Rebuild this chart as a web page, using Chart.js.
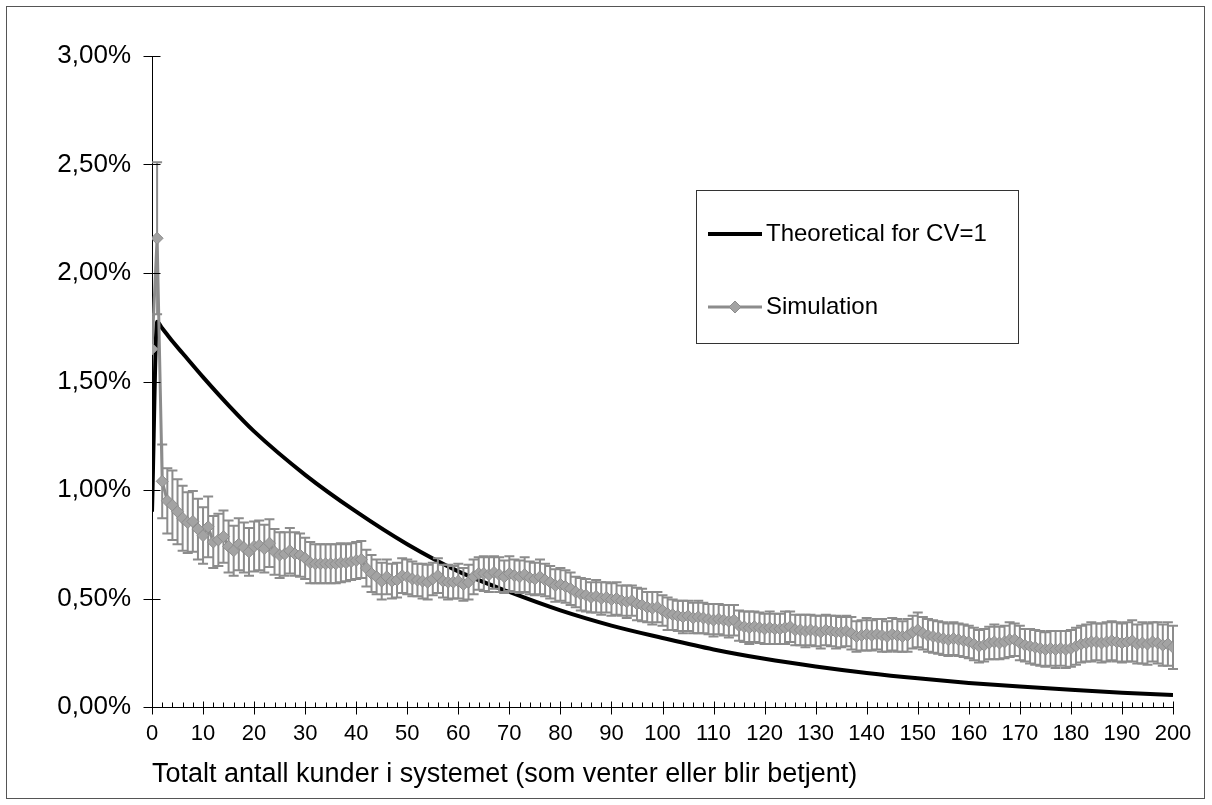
<!DOCTYPE html>
<html>
<head>
<meta charset="utf-8">
<script src="https://cdn.jsdelivr.net/npm/chart.js@4/dist/chart.umd.min.js"></script>
<style>
  body { margin: 0; background: #fff; }
  #wrap { position: relative; width: 1212px; height: 805px; }
  #frame { position: absolute; left: 6px; top: 6px; width: 1197px; height: 791px; border: 1px solid #555; pointer-events: none; }
</style>
</head>
<body>
<div id="wrap">
  <canvas id="queueChart" width="1212" height="805"></canvas>
  <div id="frame"></div>
</div>
<script>
// Theoretical distribution, read at a handful of queue lengths
const theoryCustomers = [0, 1, 2, 3, 4, 6, 10, 15, 20, 30, 40, 50, 60, 70, 80, 90, 100, 110, 120, 130, 140, 150, 160, 170, 180, 190, 200];
const theoryValues = [0.90, 1.775, 1.745, 1.715, 1.685, 1.63, 1.52, 1.39, 1.27, 1.07, 0.90, 0.75, 0.625, 0.53, 0.445, 0.375, 0.318, 0.265, 0.222, 0.187, 0.157, 0.132, 0.111, 0.094, 0.079, 0.066, 0.055];

// Simulated share of time (in %) for 0..200 customers in the system
const simValues = [
  1.65, 2.16, 1.04, 0.95, 0.93, 0.90, 0.87, 0.85, 0.855, 0.82,
  0.79, 0.83, 0.76, 0.77, 0.785, 0.74, 0.72, 0.75, 0.735, 0.715,
  0.74, 0.745, 0.73, 0.755, 0.715, 0.70, 0.705, 0.72, 0.705, 0.70,
  0.685, 0.665, 0.66, 0.66, 0.66, 0.66, 0.66, 0.665, 0.665, 0.67,
  0.675, 0.68, 0.64, 0.615, 0.60, 0.58, 0.60, 0.58, 0.585, 0.605,
  0.60, 0.59, 0.585, 0.58, 0.575, 0.59, 0.605, 0.58, 0.575, 0.575,
  0.58, 0.565, 0.575, 0.60, 0.615, 0.615, 0.61, 0.62, 0.61, 0.60,
  0.615, 0.605, 0.60, 0.61, 0.595, 0.59, 0.60, 0.585, 0.575, 0.56,
  0.565, 0.555, 0.545, 0.53, 0.52, 0.515, 0.505, 0.51, 0.50, 0.505,
  0.495, 0.50, 0.49, 0.485, 0.49, 0.475, 0.47, 0.46, 0.455, 0.46,
  0.445, 0.43, 0.425, 0.42, 0.415, 0.42, 0.41, 0.415, 0.41, 0.405,
  0.40, 0.405, 0.40, 0.395, 0.40, 0.375, 0.37, 0.365, 0.37, 0.365,
  0.36, 0.365, 0.36, 0.36, 0.365, 0.37, 0.355, 0.355, 0.35, 0.355,
  0.35, 0.345, 0.355, 0.35, 0.345, 0.345, 0.35, 0.34, 0.325, 0.33,
  0.335, 0.33, 0.335, 0.33, 0.325, 0.335, 0.33, 0.325, 0.33, 0.345,
  0.355, 0.34, 0.33, 0.325, 0.32, 0.315, 0.31, 0.315, 0.31, 0.305,
  0.30, 0.29, 0.28, 0.285, 0.295, 0.30, 0.295, 0.30, 0.31, 0.31,
  0.295, 0.285, 0.28, 0.275, 0.27, 0.265, 0.27, 0.265, 0.27, 0.265,
  0.27, 0.28, 0.29, 0.295, 0.30, 0.30, 0.295, 0.30, 0.305, 0.30,
  0.295, 0.30, 0.305, 0.29, 0.295, 0.29, 0.30, 0.295, 0.285, 0.29,
  0.275
];

// Half-width of the error bar for each simulated point
const simErrors = [
  0.0, 0.35, 0.17, 0.15, 0.16, 0.15, 0.15, 0.14, 0.14, 0.14,
  0.13, 0.14, 0.12, 0.12, 0.12, 0.12, 0.115, 0.12, 0.115, 0.11,
  0.115, 0.115, 0.11, 0.11, 0.105, 0.105, 0.10, 0.105, 0.10, 0.10,
  0.095, 0.095, 0.09, 0.09, 0.09, 0.09, 0.09, 0.09, 0.085, 0.085,
  0.085, 0.085, 0.085, 0.085, 0.08, 0.085, 0.08, 0.08, 0.08, 0.08,
  0.08, 0.08, 0.075, 0.08, 0.08, 0.075, 0.08, 0.075, 0.08, 0.075,
  0.08, 0.075, 0.08, 0.08, 0.075, 0.08, 0.08, 0.075, 0.08, 0.075,
  0.08, 0.075, 0.075, 0.08, 0.075, 0.075, 0.08, 0.075, 0.075, 0.075,
  0.075, 0.075, 0.075, 0.07, 0.075, 0.075, 0.07, 0.075, 0.075, 0.07,
  0.075, 0.075, 0.07, 0.075, 0.07, 0.075, 0.075, 0.07, 0.075, 0.07,
  0.07, 0.075, 0.07, 0.07, 0.075, 0.07, 0.07, 0.075, 0.07, 0.07,
  0.075, 0.07, 0.07, 0.075, 0.07, 0.07, 0.07, 0.075, 0.07, 0.07,
  0.07, 0.075, 0.07, 0.07, 0.075, 0.07, 0.07, 0.07, 0.075, 0.07,
  0.07, 0.075, 0.07, 0.07, 0.075, 0.07, 0.07, 0.075, 0.07, 0.07,
  0.075, 0.07, 0.07, 0.075, 0.07, 0.075, 0.075, 0.07, 0.075, 0.075,
  0.08, 0.075, 0.075, 0.075, 0.075, 0.075, 0.075, 0.075, 0.075, 0.075,
  0.075, 0.075, 0.075, 0.075, 0.075, 0.08, 0.075, 0.075, 0.08, 0.075,
  0.08, 0.075, 0.08, 0.08, 0.08, 0.08, 0.08, 0.085, 0.08, 0.085,
  0.085, 0.085, 0.085, 0.085, 0.09, 0.085, 0.09, 0.09, 0.09, 0.09,
  0.09, 0.09, 0.095, 0.09, 0.095, 0.095, 0.09, 0.095, 0.095, 0.10,
  0.10
];

const simCustomers = simValues.map((_, i) => i);

const xTickStep = 10;
const xMinorStep = 2;
const yTickStep = 0.5;

const FONT = "'Liberation Sans', Arial, sans-serif";
const simLine = '#8c8c8c';
const simFill = '#a3a3a3';

// Vertical error bars with caps, drawn just under the simulation markers
const errorBars = {
  id: 'errorBars',
  beforeDatasetDraw(chart, args) {
    if (args.index !== 0) return;
    const { ctx, scales: { x, y } } = chart;
    ctx.save();
    ctx.strokeStyle = simLine;
    ctx.lineWidth = 2;
    simValues.forEach((v, i) => {
      if (!simErrors[i]) return;
      const px = x.getPixelForValue(simCustomers[i]);
      const top = y.getPixelForValue(v + simErrors[i]);
      const bot = y.getPixelForValue(v - simErrors[i]);
      ctx.beginPath();
      ctx.moveTo(px, top); ctx.lineTo(px, bot);
      ctx.moveTo(px - 5, top); ctx.lineTo(px + 5, top);
      ctx.moveTo(px - 5, bot); ctx.lineTo(px + 5, bot);
      ctx.stroke();
    });
    ctx.restore();
  }
};

// Excel-style tick marks: crossing majors, inside minors on the x axis
const axisTicks = {
  id: 'axisTicks',
  afterDraw(chart) {
    const { ctx, scales: { x, y } } = chart;
    ctx.save();
    ctx.strokeStyle = '#000';
    ctx.lineWidth = 1;
    ctx.beginPath();
    const yb = Math.round(y.getPixelForValue(0)) + 0.5;
    for (let v = x.min; v <= x.max; v += xMinorStep) {
      const px = Math.round(x.getPixelForValue(v)) + 0.5;
      if (v % xTickStep === 0) {
        ctx.moveTo(px, yb - 6); ctx.lineTo(px, yb + 7);
      } else {
        ctx.moveTo(px, yb - 5); ctx.lineTo(px, yb);
      }
    }
    const xl = Math.round(x.getPixelForValue(0)) + 0.5;
    for (let v = y.min; v <= y.max + 1e-9; v += yTickStep) {
      const py = Math.round(y.getPixelForValue(v)) + 0.5;
      ctx.moveTo(xl - 9, py); ctx.lineTo(xl + 8, py);
    }
    ctx.stroke();
    ctx.restore();
  }
};

// Boxed legend inside the plot area
const legendBox = {
  id: 'legendBox',
  afterDraw(chart) {
    const ctx = chart.ctx;
    const sets = chart.data.datasets;
    ctx.save();
    ctx.fillStyle = '#fff';
    ctx.fillRect(696, 190, 322, 153);
    ctx.strokeStyle = '#333';
    ctx.lineWidth = 1;
    ctx.strokeRect(696.5, 190.5, 322, 153);

    ctx.font = '24px ' + FONT;
    ctx.textBaseline = 'middle';
    ctx.fillStyle = '#000';

    // theoretical
    ctx.strokeStyle = sets[1].borderColor;
    ctx.lineWidth = sets[1].borderWidth;
    ctx.beginPath(); ctx.moveTo(708, 234); ctx.lineTo(762, 234); ctx.stroke();
    ctx.fillText(sets[1].label, 766, 234);

    // simulation
    ctx.strokeStyle = sets[0].borderColor;
    ctx.lineWidth = sets[0].borderWidth;
    ctx.beginPath(); ctx.moveTo(708, 307); ctx.lineTo(762, 307); ctx.stroke();
    ctx.fillStyle = sets[0].pointBackgroundColor;
    ctx.strokeStyle = sets[0].pointBorderColor;
    ctx.lineWidth = 1;
    ctx.beginPath();
    ctx.moveTo(735, 301); ctx.lineTo(741, 307); ctx.lineTo(735, 313); ctx.lineTo(729, 307);
    ctx.closePath(); ctx.fill(); ctx.stroke();
    ctx.fillStyle = '#000';
    ctx.fillText(sets[0].label, 766, 307);
    ctx.restore();
  }
};

new Chart(document.getElementById('queueChart'), {
  type: 'line',
  data: {
    datasets: [
      {
        label: 'Simulation',
        data: simCustomers.map((c, i) => ({ x: c, y: simValues[i] })),
        borderColor: simLine,
        borderWidth: 3,
        pointStyle: 'rectRot',
        pointRadius: 6,
        pointBackgroundColor: simFill,
        pointBorderColor: simLine,
        pointBorderWidth: 1,
        tension: 0
      },
      {
        label: 'Theoretical for CV=1',
        data: theoryCustomers.map((c, i) => ({ x: c, y: theoryValues[i] })),
        borderColor: '#000',
        borderWidth: 4,
        pointRadius: 0,
        cubicInterpolationMode: 'monotone'
      }
    ]
  },
  options: {
    responsive: false,
    animation: false,
    layout: { padding: { left: 0, top: 56, right: 39, bottom: 0 } },
    plugins: {
      legend: { display: false },
      tooltip: { enabled: false }
    },
    scales: {
      x: {
        type: 'linear',
        min: 0,
        max: 200,
        afterFit(scale) { scale.height = 98; },
        grid: { display: false, drawTicks: false },
        border: { display: true, color: '#000', width: 1 },
        ticks: {
          stepSize: xTickStep,
          autoSkip: false,
          maxRotation: 0,
          padding: 14,
          color: '#000',
          font: { family: FONT, size: 22 }
        },
        title: {
          display: true,
          align: 'start',
          text: 'Totalt antall kunder i systemet (som venter eller blir betjent)',
          color: '#000',
          font: { family: FONT, size: 27 },
          padding: { top: 0, bottom: 14 }
        }
      },
      y: {
        min: 0,
        max: 3,
        afterFit(scale) { scale.width = 152; },
        grid: { display: false, drawTicks: false },
        border: { display: true, color: '#000', width: 1 },
        ticks: {
          stepSize: yTickStep,
          padding: 21,
          color: '#000',
          font: { family: FONT, size: 26 },
          callback: v => v.toFixed(2).replace('.', ',') + '%'
        }
      }
    }
  },
  plugins: [errorBars, axisTicks, legendBox]
});
</script>
</body>
</html>
